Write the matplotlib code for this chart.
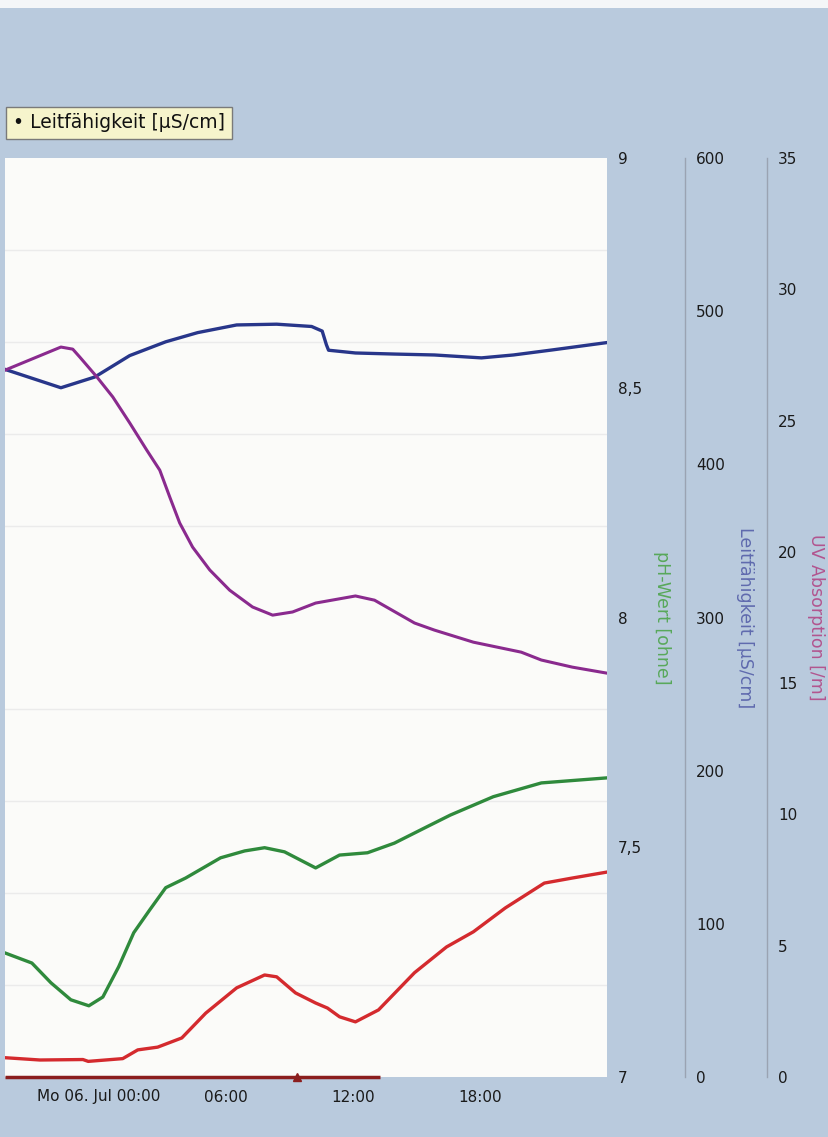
import pandas as pd
import matplotlib
matplotlib.use('Agg')
import matplotlib.pyplot as plt
from matplotlib.ticker import FixedLocator, MultipleLocator, FuncFormatter
from matplotlib.patches import Rectangle

# --- DATEN (Stunden relativ zu Mo 06. Jul 00:00) ---
T0 = pd.Timestamp("2015-07-06 00:00")
X_START_H = -4.43
X_END_H = 24.0

lf_hours = [-4.43, -1.79, -0.19, 1.46, 3.16, 4.67, 6.51, 8.40, 10.05, 10.55, 10.75,
            10.85, 12.12, 13.96, 15.85, 18.07, 19.58, 21.42, 24.0]
lf_values = [462, 450, 457, 471, 480, 486, 491, 491.5, 490, 487, 478,
             474.5, 472.7, 472, 471.4, 469.5, 471.4, 474.7, 479.5]

uv_hours = [-4.43, -1.79, -1.23, -0.90, -0.09, 0.66, 1.46, 2.26, 2.88, 3.35, 3.82, 4.43,
            5.24, 6.18, 7.26, 8.21, 9.15, 10.24, 12.12, 13.02, 14.91, 15.85, 17.69,
            19.95, 20.90, 22.36, 24.0]
uv_values = [26.92, 27.80, 27.72, 27.42, 26.66, 25.90, 24.91, 23.88, 23.11, 22.09, 21.10, 20.18,
             19.31, 18.54, 17.90, 17.59, 17.71, 18.05, 18.32, 18.16, 17.29, 17.02, 16.56,
             16.18, 15.88, 15.61, 15.38]

ph_hours = [-4.43, -3.16, -2.26, -1.32, -0.47, 0.19, 0.94, 1.65, 2.41, 3.16, 4.10, 5.75,
            6.89, 7.83, 8.77, 10.24, 11.37, 12.69, 13.96, 15.47, 16.60, 18.63, 20.90, 24.0]
ph_values = [7.270, 7.248, 7.205, 7.168, 7.155, 7.174, 7.240, 7.314, 7.364, 7.412, 7.433, 7.477,
             7.492, 7.499, 7.490, 7.455, 7.483, 7.488, 7.509, 7.544, 7.570, 7.610, 7.640, 7.651]

red_hours = [-4.43, -2.78, -0.75, -0.5, 1.13, 1.84, 2.78, 3.92, 5.05, 6.51, 7.83, 8.40, 9.29,
             10.24, 10.80, 11.37, 12.12, 13.21, 14.91, 16.42, 17.69, 19.20, 21.04, 22.36, 24.0]
red_values = [7.042, 7.037, 7.038, 7.034, 7.040, 7.059, 7.065, 7.085, 7.139, 7.194, 7.222, 7.218, 7.183,
              7.161, 7.150, 7.131, 7.120, 7.146, 7.227, 7.283, 7.316, 7.368, 7.422, 7.433, 7.446]

event_span_hours = [-4.43, 13.3]
event_mark_hours = [9.34]

xtick_hours = [0, 6, 12, 18]
ph_ticks = [7, 7.5, 8, 8.5, 9]
lf_ticks = [0, 100, 200, 300, 400, 500, 600]
uv_ticks = [0, 5, 10, 15, 20, 25, 30, 35]


def to_dt(hours):
    return T0 + pd.to_timedelta(hours, unit="h")


# --- FARBEN ---
BG = '#b9cadd'
C_LF = '#28368a'
C_UV = '#8a2a8e'
C_PH = '#2f8a3c'
C_RED = '#d42a2e'
TXT = '#1a1a1a'

W, H = 829, 1137
fig = plt.figure(figsize=(W / 100, H / 100), dpi=100, facecolor=BG)
fig.patches.append(Rectangle((0, 1 - 8 / H), 1, 8 / H, transform=fig.transFigure,
                             fc='#f4f6f8', ec='none', zorder=0))

ax = fig.add_axes([5 / W, 1 - 1077 / H, 602 / W, 919 / H])
ax.set_facecolor('#fbfbf9')
par1 = ax.twinx()
par2 = ax.twinx()
ax.yaxis.tick_right()
ax.yaxis.set_label_position('right')

par1.spines['right'].set_position(('axes', (685 - 5) / 602))
par2.spines['right'].set_position(('axes', (767 - 5) / 602))

for a in (ax, par1, par2):
    for s in a.spines.values():
        s.set_visible(False)
for a in (par1, par2):
    a.spines['right'].set_visible(True)
    a.spines['right'].set_color('#9aa3b2')
    a.spines['right'].set_linewidth(1.0)

# Linien
ax.plot(to_dt(red_hours), red_values, color=C_RED, lw=2.4, zorder=3)
ax.plot(to_dt(ph_hours), ph_values, color=C_PH, lw=2.4, zorder=3)
par2.plot(to_dt(uv_hours), uv_values, color=C_UV, lw=2.2)
par1.plot(to_dt(lf_hours), lf_values, color=C_LF, lw=2.4)

# Ereignisbalken unten
ax.plot(to_dt(event_span_hours), [7.0, 7.0], color='#8b1e1e', lw=2.5,
        solid_capstyle='butt', clip_on=False, zorder=4)
ax.plot(to_dt(event_mark_hours), [7.0], marker='^', ms=6, color='#8b1e1e',
        clip_on=False, zorder=4)

# Achsen
ax.set_xlim(to_dt(X_START_H), to_dt(X_END_H))
ax.set_ylim(7, 9)
par1.set_ylim(0, 600)
par2.set_ylim(0, 35)

ax.xaxis.set_major_locator(FixedLocator(matplotlib.dates.date2num(to_dt(xtick_hours))))


def fmt_x(v, pos):
    d = matplotlib.dates.num2date(v)
    if d.hour == 0:
        return "Mo 06. Jul 00:00"
    return d.strftime("%H:%M")


ax.xaxis.set_major_formatter(FuncFormatter(fmt_x))
ax.tick_params(axis='x', length=0, pad=9, labelsize=11, labelcolor=TXT)

ax.yaxis.set_major_locator(FixedLocator(ph_ticks))
ax.yaxis.set_major_formatter(FuncFormatter(lambda v, p: f"{v:g}".replace('.', ',')))
ax.yaxis.set_minor_locator(MultipleLocator(0.2))
ax.grid(True, which='minor', axis='y', color='#ebebeb', lw=1.0)
ax.grid(False, which='major')
ax.tick_params(axis='y', which='both', length=0, pad=8, labelsize=11, labelcolor=TXT)

par1.yaxis.set_major_locator(FixedLocator(lf_ticks))
par1.tick_params(axis='y', length=0, pad=8, labelsize=11, labelcolor=TXT)
par2.yaxis.set_major_locator(FixedLocator(uv_ticks))
par2.tick_params(axis='y', length=0, pad=8, labelsize=11, labelcolor=TXT)

ax.set_ylabel("pH-Wert [ohne]", color='#58a85a', fontsize=12.5, rotation=270, va='center')
par1.set_ylabel("Leitfähigkeit [µS/cm]", color='#5f6aae', fontsize=12.5, rotation=270, va='center')
par2.set_ylabel("UV Absorption [/m]", color='#b2558f', fontsize=12.5, rotation=270, va='center')
ax.yaxis.set_label_coords((662 - 5) / 602, 0.5)
par1.yaxis.set_label_coords((745 - 5) / 602, 0.5)
par2.yaxis.set_label_coords((816 - 5) / 602, 0.5)

# Legende
fig.text(13 / W, 1 - 123 / H, "• Leitfähigkeit [µS/cm]", fontsize=13.5, color='#111111',
         ha='left', va='center',
         bbox=dict(boxstyle='square,pad=0.35', fc='#f6f4cc', ec='#7a7a7a', lw=1))

plt.savefig('out.png', dpi=100, facecolor=BG)
plt.close(fig)
